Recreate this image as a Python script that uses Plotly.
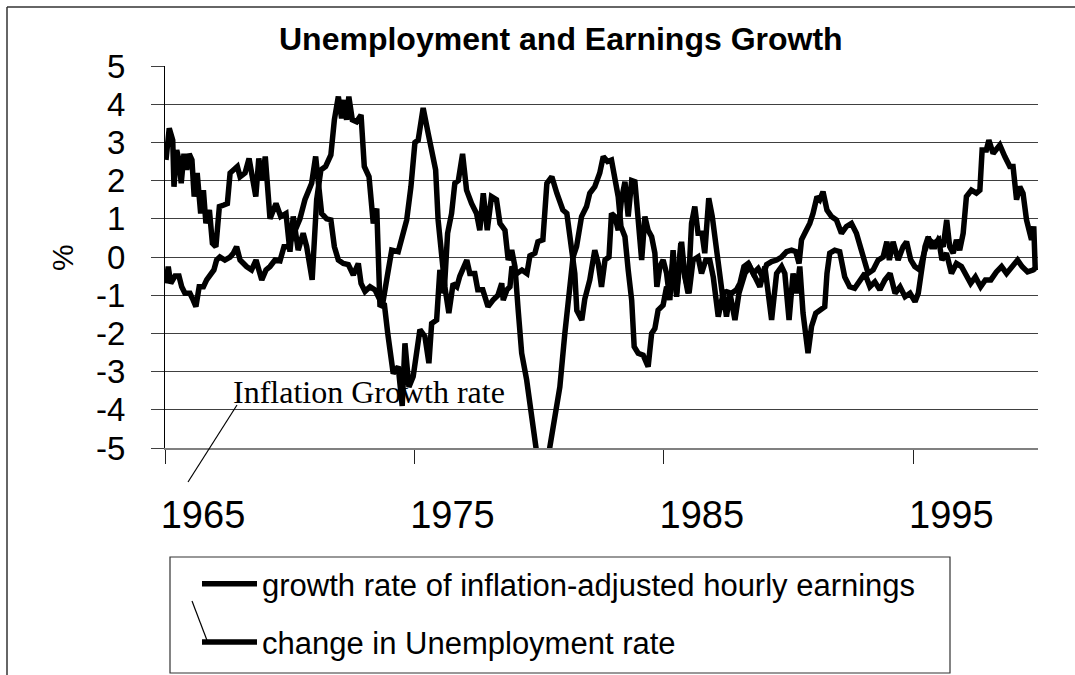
import plotly.graph_objects as go

# values (decimal years, %)
earn_years = [1965.04, 1965.17, 1965.31, 1965.36, 1965.47, 1965.56, 1965.65, 1965.76, 1965.87, 1965.97,
              1966.08, 1966.17, 1966.29, 1966.43, 1966.54, 1966.64, 1966.78, 1966.90, 1967.04, 1967.18,
              1967.36, 1967.50, 1967.61, 1967.90, 1968.01, 1968.21, 1968.37, 1968.50, 1968.64, 1968.76,
              1968.88, 1969.02, 1969.21, 1969.45, 1969.64, 1969.85, 1970.01, 1970.14, 1970.34, 1970.54,
              1970.68, 1970.90, 1971.08, 1971.25, 1971.44, 1971.65, 1971.79, 1971.95, 1972.08, 1972.19,
              1972.28, 1972.37, 1972.51, 1972.68, 1972.86, 1972.99, 1973.18, 1973.35, 1973.49, 1973.62,
              1973.79, 1973.93, 1974.15, 1974.35, 1974.51, 1974.62, 1974.78, 1974.95, 1975.22, 1975.42,
              1975.58, 1975.69, 1975.89, 1976.02, 1976.19, 1976.33, 1976.49, 1976.62, 1976.76, 1976.93,
              1977.09, 1977.29, 1977.49, 1977.62, 1977.76, 1977.92, 1978.09, 1978.29, 1978.43, 1978.63,
              1978.76, 1978.90, 1979.03, 1979.16, 1979.30, 1979.50, 1979.70, 1979.90, 1980.15, 1980.43,
              1980.63, 1980.83, 1981.03, 1981.16, 1981.36, 1981.50, 1981.70, 1981.90, 1982.03, 1982.23,
              1982.43, 1982.57, 1982.74, 1982.90, 1983.04, 1983.17, 1983.28, 1983.44, 1983.57, 1983.71,
              1983.81, 1983.97, 1984.17, 1984.37, 1984.51, 1984.64, 1984.77, 1984.97, 1985.11, 1985.24,
              1985.37, 1985.51, 1985.68, 1985.84, 1986.01, 1986.17, 1986.37, 1986.51, 1986.68, 1986.84,
              1986.98, 1987.18, 1987.38, 1987.51, 1987.65, 1987.85, 1988.01, 1988.25, 1988.45, 1988.65,
              1988.85, 1989.05, 1989.32, 1989.52, 1989.72, 1989.85, 1990.02, 1990.18, 1990.32, 1990.45,
              1990.58, 1990.78, 1990.92, 1991.09, 1991.25, 1991.45, 1991.54, 1991.65, 1991.85, 1992.05,
              1992.25, 1992.45, 1992.65, 1992.86, 1993.06, 1993.26, 1993.46, 1993.66, 1993.86, 1994.07,
              1994.27, 1994.47, 1994.67, 1994.87, 1995.07, 1995.20, 1995.33, 1995.47, 1995.60, 1995.73,
              1995.87, 1996.00, 1996.20, 1996.34, 1996.46, 1996.60, 1996.73, 1996.86, 1997.00, 1997.13,
              1997.33, 1997.53, 1997.67, 1997.76, 1997.93, 1998.03, 1998.20, 1998.47, 1998.67, 1998.87,
              1999.00, 1999.14, 1999.27, 1999.40, 1999.54, 1999.74, 1999.83, 1999.89]
earn_values = [2.54, 3.37, 3.06, 1.84, 2.8, 2.54, 1.93, 2.7, 2.28, 2.7,
               2.54, 1.58, 2.2, 1.14, 1.75, 0.88, 1.23, 0.36, 0.27, 1.32,
               1.36, 1.4, 2.2, 2.37, 2.1, 2.2, 2.58, 2.1, 1.58, 2.58,
               2.0, 2.63, 1.0, 1.4, 1.06, 1.14, 0.14, 1.06, 0.18, 0.62,
               0.27, -0.6, 1.5, 2.28, 2.37, 2.67, 3.59, 4.2, 3.63, 4.11,
               3.59, 4.2, 3.59, 3.54, 3.72, 2.37, 2.1, 0.88, 1.27, -1.3,
               -1.21, -2.0, -3.05, -2.87, -3.9, -2.26, -3.4, -3.13, -1.9, -2.08,
               -2.78, -1.74, -1.65, -0.34, -0.95, 0.62, 1.14, 1.93, 2.0, 2.7,
               1.75, 1.4, 1.14, 0.7, 1.67, 0.7, 1.58, 1.5, 0.88, 0.7,
               -0.08, 0.18, -0.25, -1.39, -2.52, -3.22, -4.18, -4.97, -6.3, -4.97,
               -4.1, -3.4, -2.0, -1.13, 0.0, 0.27, 1.06, 1.32, 1.67, 1.84,
               2.2, 2.63, 2.5, 2.54, 2.0, 1.58, 0.8, 0.53, -0.34, -1.13,
               -2.35, -2.52, -2.57, -2.87, -2.0, -1.87, -1.39, -1.26, -0.78, -0.95,
               -0.08, -0.95, 0.36, -0.5, -0.95, -0.08, 0.0, -0.43, -0.08, -0.08,
               -0.52, -1.56, -0.95, -1.56, -0.95, -1.65, -0.95, -0.43, -0.25, -0.52,
               -0.78, -0.25, -1.65, -0.43, -0.25, -0.43, -1.65, -0.43, -0.95, -0.25,
               -1.47, -2.52, -1.82, -1.47, -1.39, -1.3, -0.43, 0.1, 0.18, 0.14,
               -0.52, -0.78, -0.82, -0.6, -0.43, -0.78, -0.65, -0.86, -0.6, -0.43,
               -0.95, -0.78, -1.04, -0.95, -1.17, -0.95, -0.34, 0.27, 0.53, 0.27,
               0.27, 0.45, 0.27, 0.97, 0.27, 0.1, 0.45, 0.18, 0.62, 1.58,
               1.75, 1.67, 1.75, 2.8, 2.8, 3.06, 2.71, 2.93, 2.63, 2.37,
               2.37, 1.5, 1.84, 1.67, 0.97, 0.45, 0.8, -0.34]

unemp_years = [1965.04, 1965.13, 1965.23, 1965.40, 1965.56, 1965.67, 1965.80, 1966.00, 1966.13, 1966.24,
               1966.37, 1966.54, 1966.67, 1966.80, 1966.96, 1967.07, 1967.20, 1967.40, 1967.61, 1967.74,
               1967.87, 1968.01, 1968.14, 1968.27, 1968.47, 1968.65, 1968.88, 1969.05, 1969.21, 1969.41,
               1969.61, 1969.77, 1969.94, 1970.13, 1970.41, 1970.61, 1970.74, 1970.88, 1971.04, 1971.17,
               1971.28, 1971.48, 1971.65, 1971.79, 1971.95, 1972.15, 1972.35, 1972.55, 1972.75, 1972.86,
               1973.02, 1973.22, 1973.42, 1973.62, 1973.75, 1973.93, 1974.09, 1974.35, 1974.53, 1974.69,
               1974.86, 1975.02, 1975.15, 1975.35, 1975.55, 1975.75, 1975.85, 1975.95, 1976.09, 1976.22,
               1976.38, 1976.55, 1976.70, 1976.82, 1977.10, 1977.22, 1977.42, 1977.54, 1977.74, 1977.95,
               1978.15, 1978.35, 1978.50, 1978.56, 1978.71, 1978.83, 1978.91, 1979.11, 1979.31, 1979.51,
               1979.63, 1979.83, 1979.95, 1980.15, 1980.31, 1980.51, 1980.71, 1980.95, 1981.11, 1981.31,
               1981.43, 1981.51, 1981.71, 1981.83, 1982.03, 1982.23, 1982.37, 1982.50, 1982.64, 1982.80,
               1982.90, 1983.04, 1983.17, 1983.30, 1983.44, 1983.57, 1983.71, 1983.84, 1983.97, 1984.11,
               1984.24, 1984.37, 1984.51, 1984.64, 1984.72, 1984.84, 1984.97, 1985.11, 1985.24, 1985.37,
               1985.51, 1985.71, 1985.84, 1985.97, 1986.11, 1986.24, 1986.37, 1986.53, 1986.64, 1986.80,
               1986.94, 1987.11, 1987.24, 1987.34, 1987.51, 1987.71, 1987.91, 1988.05, 1988.21, 1988.38,
               1988.58, 1988.78, 1988.96, 1989.12, 1989.32, 1989.52, 1989.72, 1989.92, 1990.12, 1990.29,
               1990.42, 1990.52, 1990.65, 1990.85, 1990.98, 1991.14, 1991.25, 1991.38, 1991.54, 1991.72,
               1991.92, 1992.12, 1992.32, 1992.52, 1992.72, 1992.86, 1993.02, 1993.19, 1993.39, 1993.59,
               1993.79, 1993.94, 1994.04, 1994.19, 1994.39, 1994.59, 1994.73, 1994.90, 1995.06, 1995.26,
               1995.43, 1995.62, 1995.83, 1996.02, 1996.15, 1996.33, 1996.53, 1996.73, 1996.93, 1997.13,
               1997.30, 1997.49, 1997.70, 1997.89, 1998.11, 1998.33, 1998.54, 1998.74, 1998.94, 1999.18,
               1999.36, 1999.58, 1999.80, 1999.89]
unemp_values = [-0.69, -0.25, -0.69, -0.5, -0.5, -0.78, -0.95, -0.95, -1.13, -1.3,
                -0.78, -0.78, -0.6, -0.5, -0.34, -0.08, 0.0, -0.08, 0.0, 0.1,
                0.27, -0.08, -0.17, -0.25, -0.34, -0.08, -0.6, -0.34, -0.25, -0.08,
                -0.1, 0.27, 0.27, 0.55, 1.0, 1.5, 1.75, 1.93, 2.63, 1.67,
                1.14, 1.0, 0.97, 0.27, -0.08, -0.17, -0.2, -0.47, -0.17, -0.69,
                -0.9, -0.78, -0.86, -1.13, -1.13, -0.43, 0.18, 0.14, 0.62, 0.97,
                1.84, 3.0, 3.06, 3.9, 3.24, 2.54, 2.28, 0.97, -0.17, -0.78,
                -1.47, -0.7, -0.78, -0.5, -0.08, -0.43, -0.43, -0.86, -0.86, -1.3,
                -1.13, -1.0, -0.69, -1.13, -0.86, -0.78, -0.25, -0.43, -0.34, -0.43,
                0.03, 0.1, 0.4, 0.45, 1.93, 2.1, 1.67, 1.23, 1.14, 0.0,
                -0.43, -1.4, -1.65, -1.1, -0.6, 0.18, -0.17, -0.78, -0.08, 0.0,
                1.14, 1.06, 0.7, 1.5, 1.97, 1.06, 2.0, 1.97, 1.06, -0.08,
                1.06, 0.7, 0.53, 0.1, -0.78, -0.25, -0.08, -0.43, -1.13, 0.18,
                -1.04, 0.4, -0.5, -0.95, 0.88, 1.32, 0.62, 0.62, 0.1, 1.54,
                1.06, 0.18, -0.6, -0.95, -0.91, -0.95, -0.86, -0.69, -0.25, -0.17,
                -0.43, -0.3, -0.52, -0.2, -0.12, -0.08, 0.0, 0.14, 0.18, 0.14,
                -0.17, 0.45, 0.62, 0.88, 1.14, 1.58, 1.5, 1.71, 1.23, 1.06,
                0.97, 0.62, 0.8, 0.88, 0.62, 0.27, -0.08, -0.43, -0.34, -0.08,
                0.0, 0.4, -0.08, 0.4, -0.08, 0.27, 0.4, -0.08, -0.25, -0.34,
                0.1, 0.45, 0.36, 0.45, -0.08, 0.1, -0.43, -0.17, -0.25, -0.47,
                -0.69, -0.52, -0.78, -0.6, -0.6, -0.39, -0.25, -0.43, -0.25, -0.08,
                -0.25, -0.39, -0.34, -0.3]

year_ticks = [1965, 1975, 1985, 1995]
year_labels = ["1965", "1975", "1985", "1995"]
pct_ticks = [5, 4, 3, 2, 1, 0, -1, -2, -3, -4, -5]
pct_labels = ["5", "4", "3", "2", "1", "0", "-1", "-2", "-3", "-4", "-5"]

series_names = ["growth rate of inflation-adjusted hourly earnings", "change in Unemployment rate"]

# window is 1075 x 675; plot box in pixels
W, H = 1075, 675
L, R, T, B = 165, 1038, 66, 448


def px(x):
    return (x - L) / (R - L)


def py(y):
    return (B - y) / (B - T)


fig = go.Figure()
for i, (xs, ys) in enumerate([(earn_years, earn_values), (unemp_years, unemp_values)]):
    fig.add_trace(go.Scatter(
        x=xs, y=ys, mode="lines", name=series_names[i], legendgroup=str(i),
        line=dict(color="black", width=5.5),
    ))

grey = "#404040"
fig.update_xaxes(
    range=[1965, 2000], tickvals=year_ticks, ticktext=year_labels,
    ticks="outside", ticklen=14, tickcolor="#222", tickwidth=1,
    showline=True, linecolor="#808080", linewidth=2,
    showgrid=False, zeroline=False, automargin=False,
    tickfont=dict(family="Arial, Liberation Sans", size=38, color="black"),
    ticklabelshift=38, ticklabelstandoff=18,
)
fig.update_yaxes(
    range=[-5, 5], tickvals=pct_ticks, ticktext=pct_labels,
    ticks="outside", ticklen=13, tickcolor=grey, tickwidth=1,
    showline=True, linecolor="black", linewidth=1,
    showgrid=True, gridcolor=grey, gridwidth=1, zeroline=False, automargin=False,
    tickfont=dict(family="Arial, Liberation Sans", size=33, color="black"),
    ticklabelstandoff=19,
)

shapes = [
    # outer chart border: only its top and left edges fall inside the window
    dict(type="line", xref="paper", yref="paper", x0=px(7), x1=px(W), y0=py(7), y1=py(7),
         line=dict(color="#333", width=1.5)),
    dict(type="line", xref="paper", yref="paper", x0=px(7), x1=px(7), y0=py(7), y1=py(H),
         line=dict(color="#333", width=1.5)),
    # legend box
    dict(type="rect", xref="paper", yref="paper", x0=px(170), x1=px(950), y0=py(673), y1=py(557),
         line=dict(color="#333", width=1.2)),
    # leader lines
    dict(type="line", xref="paper", yref="paper", x0=px(237), y0=py(405), x1=px(188), y1=py(482),
         line=dict(color="black", width=1.2)),
    dict(type="line", xref="paper", yref="paper", x0=px(192), y0=py(601), x1=px(208), y1=py(643),
         line=dict(color="black", width=1.2)),
]

annotations = [
    dict(text="<b>Unemployment and Earnings Growth</b>", xref="paper", yref="paper",
         x=px(561), y=py(39), xanchor="center", yanchor="middle", showarrow=False,
         font=dict(family="Arial, Liberation Sans", size=32, color="black")),
    dict(text="%", xref="paper", yref="paper", x=px(62), y=py(258), textangle=-90,
         xanchor="center", yanchor="middle", showarrow=False,
         font=dict(family="Arial, Liberation Sans", size=30, color="black")),
    dict(text="Inflation Growth rate", xref="paper", yref="paper", x=px(231), y=py(392),
         xanchor="left", yanchor="middle", showarrow=False,
         font=dict(family="Times New Roman, Liberation Serif", size=32, color="black")),
]

fig.update_layout(
    width=W, height=H,
    # autoexpand off so the legend below the axes doesn't squeeze the plot
    margin=dict(l=L, r=W - R, t=T, b=H - B, pad=0, autoexpand=False),
    paper_bgcolor="white", plot_bgcolor="white",
    shapes=shapes, annotations=annotations,
    showlegend=True,
    legend=dict(
        x=px(197), y=py(557), xanchor="left", yanchor="top",
        bgcolor="rgba(0,0,0,0)", borderwidth=0, tracegroupgap=15, itemwidth=55,
        font=dict(family="Arial, Liberation Sans", size=31, color="black"),
    ),
)

# drop the page's default body margin so the chart sits at the window origin
fig.write_html("out.html", config={"displayModeBar": False},
               post_script="document.body.style.margin='0';document.body.style.overflow='hidden';")
